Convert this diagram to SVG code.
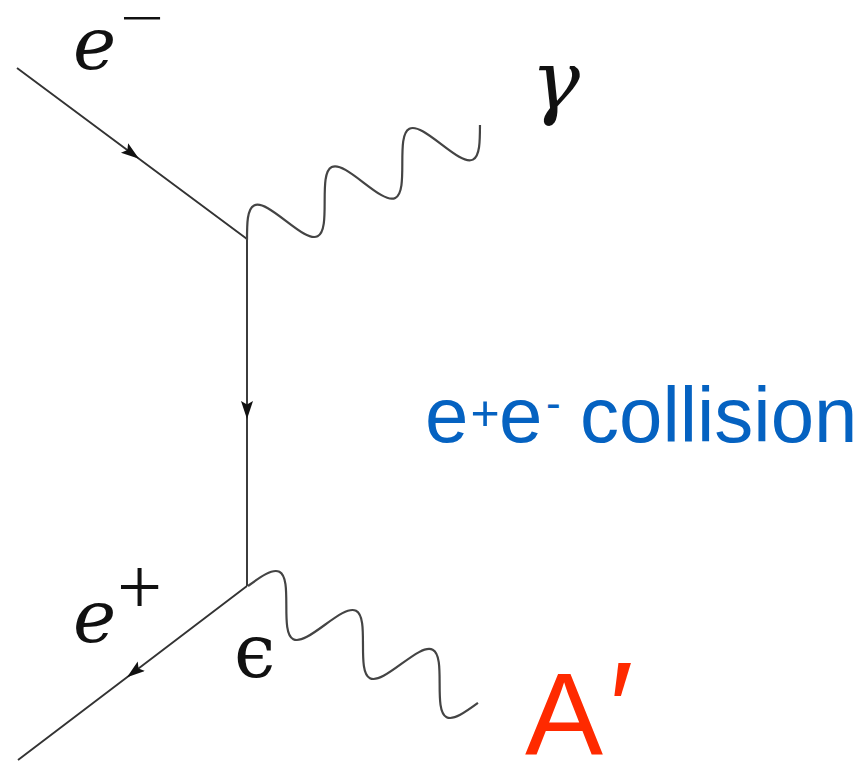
<svg xmlns="http://www.w3.org/2000/svg" width="864" height="764" viewBox="0 0 864 764">
  <style>
    .fermion { fill: none; stroke: #333; stroke-width: 1.9; marker-mid: url(#arr); }
    .photon { fill: none; stroke: #444; stroke-width: 2.2; }
    .math { font-family: "DejaVu Serif", "Liberation Serif", serif; font-style: italic; fill: #111; }
    .op { font-family: "Liberation Serif", "DejaVu Serif", serif; fill: #111; }
    .sans { font-family: "Liberation Sans", Arial, "DejaVu Sans", sans-serif; }
  </style>
  <defs>
    <marker id="arr" markerUnits="userSpaceOnUse" markerWidth="19" markerHeight="13" refX="18" refY="6" orient="auto" viewBox="0 0 19 13">
      <path d="M0,0 L18,6 L0,12 L3.5,6 z" fill="#111"/>
    </marker>
  </defs>
  <rect width="864" height="764" fill="#fff"/>

  <g id="connectors">
    <path class="fermion" d="M17,68 L139,158.7 L247,239"/>
    <path class="fermion" d="M247,239 L247,419 L247,586"/>
    <path class="fermion" d="M247,586 L127,677.2 L18,760"/>
    <path id="photon-gamma" class="photon" transform="translate(247,240) rotate(-26.27)"
      d="M0,0
         c 7.06,-14.29 13.81,-27.9 21.65,-27.9 c 7.84,0 14.59,13.61 21.65,27.9
         c 7.06,14.29 13.81,27.9 21.65,27.9 c 7.84,0 14.59,-13.61 21.65,-27.9
         c 7.06,-14.29 13.81,-27.9 21.65,-27.9 c 7.84,0 14.59,13.61 21.65,27.9
         c 7.06,14.29 13.81,27.9 21.65,27.9 c 7.84,0 14.59,-13.61 21.65,-27.9
         c 7.06,-14.29 13.81,-27.9 21.65,-27.9 c 7.84,0 14.59,13.61 21.65,27.9
         c 7.06,14.29 13.81,27.9 21.65,27.9 c 7.84,0 14.59,-13.61 21.65,-27.9"/>
    <path id="photon-aprime" class="photon" transform="translate(248,586) rotate(26.96)"
      d="M0,0
         c 7.01,-13.78 13.72,-26.9 21.5,-26.9 c 7.78,0 14.49,13.12 21.5,26.9
         c 7.01,13.78 13.72,26.9 21.5,26.9 c 7.78,0 14.49,-13.12 21.5,-26.9
         c 7.01,-13.78 13.72,-26.9 21.5,-26.9 c 7.78,0 14.49,13.12 21.5,26.9
         c 7.01,13.78 13.72,26.9 21.5,26.9 c 7.78,0 14.49,-13.12 21.5,-26.9
         c 7.01,-13.78 13.72,-26.9 21.5,-26.9 c 7.78,0 14.49,13.12 21.5,26.9
         c 7.01,13.78 13.72,26.9 21.5,26.9 c 7.78,0 14.49,-13.12 21.5,-26.9"/>
  </g>

  <g id="label-e-minus">
    <text class="math" x="73" y="69" font-size="73">e</text>
    <text class="op" x="121" y="29" font-size="32" textLength="41" lengthAdjust="spacingAndGlyphs" stroke="#111" stroke-width="1">−</text>
  </g>
  <g id="label-e-plus">
    <text class="math" x="73" y="642" font-size="73">e</text>
    <text class="op" x="117" y="614" font-size="80">+</text>
  </g>
  <g id="label-gamma">
    <text class="math" x="531" y="109" font-size="82">γ</text>
  </g>
  <g id="label-epsilon">
    <text x="234" y="677" font-size="74" font-family="DejaVu Serif, serif" fill="#111">ϵ</text>
  </g>
  <g id="label-collision">
    <text class="sans" fill="#0562c1" font-size="78"><tspan x="425" y="442">e</tspan><tspan x="470.5" y="430" font-size="50">+</tspan><tspan x="499" y="442">e</tspan><tspan x="546" y="418" font-size="44">-</tspan><tspan x="580" y="442">collision</tspan></text>
  </g>
  <g id="label-aprime">
    <text class="sans" fill="#ff2a00" font-size="117"><tspan x="525" y="755">A</tspan><tspan x="609" y="753" font-size="130">′</tspan></text>
  </g>
</svg>
